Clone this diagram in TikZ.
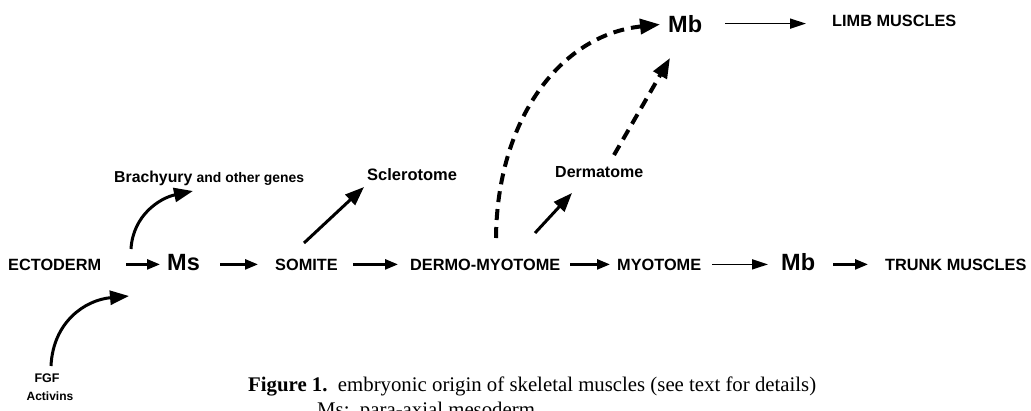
\documentclass[tikz,border=0pt]{standalone}
\usepackage{fontspec}
\setmainfont{Liberation Serif}
\setsansfont{Liberation Sans}
\usetikzlibrary{arrows.meta}
\tikzset{
  capslab/.style={inner sep=0pt, anchor=base west, font=\sffamily\bfseries\fontsize{16.3}{18}\selectfont},
  biglab/.style={inner sep=0pt, anchor=base west, font=\sffamily\bfseries\fontsize{23.5}{26}\selectfont},
  smalllab/.style={inner sep=0pt, anchor=base west, font=\sffamily\bfseries\fontsize{16}{18}\selectfont},
  arr/.style={line width=2.6pt, -{Triangle[length=13pt,width=10pt]}},
  thinarr/.style={line width=1.7pt, -{Triangle[length=16pt,width=10pt]}},
  bigarr/.style={line width=3pt, -{Triangle[length=19pt,width=14pt]}},
  dasharr/.style={line width=4pt, dash pattern=on 11pt off 7pt, -{Triangle[length=20pt,width=15pt]}},
  captext/.style={inner sep=0pt, anchor=base west, font=\fontsize{20.8}{24}\selectfont},
}
\begin{document}
\begin{tikzpicture}[x=1pt,y=-1pt]
\useasboundingbox (0,0) rectangle (1031,410);
\clip (0,0) rectangle (1031,410);
% main row
\node[capslab] (ecto) at (8,270) {ECTODERM};
\node[biglab] (ms) at (167,270) {Ms};
\node[capslab] (somite) at (275,270) {SOMITE};
\node[capslab] (dermo) at (410,270) {DERMO-MYOTOME};
\node[capslab] (myo) at (617,270) {MYOTOME};
\node[biglab] (mbl) at (781,270) {Mb};
\node[capslab] (trunk) at (885,270) {TRUNK MUSCLES};
% upper
\node[biglab] (mbu) at (668,32) {Mb};
\node[capslab] (limb) at (832,26) {LIMB MUSCLES};
\node[smalllab] (derm) at (555,177) {Dermatome};
\node[smalllab, font=\sffamily\bfseries\fontsize{16.5}{18}\selectfont] (scl) at (367,180) {Sclerotome};
\node[inner sep=0pt, anchor=base west, font=\sffamily\bfseries] (bra) at (114,182)
  {\fontsize{15.8}{18}\selectfont Brachyury \fontsize{13.9}{16}\selectfont and other genes};
\node[inner sep=0pt, anchor=base, font=\sffamily\bfseries\fontsize{12.5}{14}\selectfont] (fgf) at (47,382) {FGF};
\node[inner sep=0pt, anchor=base, font=\sffamily\bfseries\fontsize{12}{14}\selectfont] (act) at (50,400) {Activins};
% caption
\node[captext] (cap1) at (248,391)
  {\textbf{Figure 1.}\ \ embryonic origin of skeletal muscles (see text for details)};
\node[captext] (cap2) at (317,416)
  {Ms:\ \ para-axial mesoderm};
% main arrows
\draw[arr, shorten <=25pt, shorten >=7pt] (ecto.east) -- (ecto.east -| ms.west);
\draw[arr, shorten <=20pt, shorten >=17pt] (ms.east |- somite.east) -- (somite.west);
\draw[arr, shorten <=15pt, shorten >=12pt] (somite.east) -- (dermo.west);
\draw[arr, shorten <=10pt, shorten >=7pt] (dermo.east) -- (myo.west);
\draw[thinarr, shorten <=11pt, shorten >=13pt] (myo.east) -- (myo.east -| mbl.west);
\draw[arr, shorten <=18pt, shorten >=17pt] (mbl.east |- trunk.east) -- (trunk.west);
\draw[thinarr, shorten <=23pt, shorten >=26pt] (mbu.east) -- (mbu.east -| limb.west);
% side arrows
\coordinate (b1) at (131,249);
\coordinate (b2) at (193,191);
\draw[bigarr] (b1) .. controls (133,215) and (160,198) .. (b2);
\coordinate (f1) at (51,366);
\coordinate (f2) at (129,296);
\draw[bigarr] (f1) .. controls (53,322) and (85,300) .. (f2);
\coordinate (s1) at (304,243);
\coordinate (s2) at (364,187);
\draw[bigarr] (s1) -- (s2);
\coordinate (d1) at (535,233);
\coordinate (d2) at (572,193);
\draw[bigarr] (d1) -- (d2);
\coordinate (dm1) at (614,155);
\coordinate (dm2) at (670,58);
\draw[dasharr] (dm1) -- (dm2);
\coordinate (dc1) at (496,238);
\draw[dasharr, shorten >=8pt] (dc1) .. controls (497,120) and (560,35) .. (mbu.west);
\end{tikzpicture}
\end{document}
